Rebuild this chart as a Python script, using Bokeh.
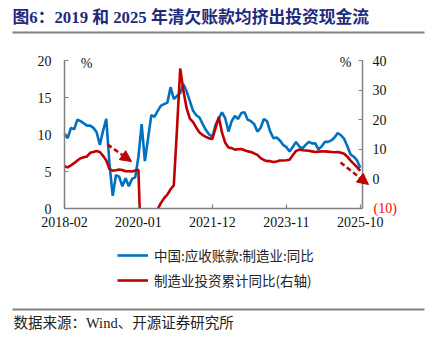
import pandas as pd
from bokeh.plotting import figure
from bokeh.models import (Range1d, LinearAxis, FixedTicker, Label, Arrow, NormalHead,
                          BoxAnnotation, Legend, LegendItem)
from bokeh.embed import file_html
from bokeh.resources import INLINE

# ---------------- data ----------------
months = list(pd.date_range("2018-02-01", periods=93, freq="MS").strftime("%Y-%m"))
tick_labels = ["2018-02", "2020-01", "2021-12", "2023-11", "2025-10"]

# 中国:应收账款:制造业:同比 (left axis, %)
receivables_yoy = [
    10.1, 9.5, 10.9, 10.7, 12.0, 11.8, 11.5, 11.2, 11.2, 10.9,
    10.3, 8.6, 10.5, 12.1, 6.0, 1.7, 4.5, 4.3, 3.0, 4.1,
    3.0, 4.0, 4.2, 7.0, 11.4, 6.4, 9.5, 12.6, 12.4, 13.2,
    13.9, 14.1, 14.3, 16.4, 14.8, 15.2, 15.6, 16.8, 15.8, 14.5,
    13.2, 12.6, 12.3, 11.4, 10.6, 10.0, 9.7, 11.3, 12.2, 13.0,
    12.2, 10.4, 11.8, 12.5, 12.1, 12.9, 13.0, 12.0, 11.8, 11.4,
    10.4, 10.9, 12.1, 11.8, 10.4, 9.5, 9.6, 9.2, 8.6, 8.3,
    7.7, 8.3, 9.0, 8.4, 8.1, 8.6, 9.0, 8.8, 8.8, 8.0,
    8.4, 9.0, 9.0, 9.2, 9.6, 10.2, 9.9, 9.4, 8.4, 7.3,
    7.0, 6.5, 5.5,
]

# 制造业投资累计同比 (right axis, %)
mfg_invest_ytd = [
    4.3, 3.9, 4.6, 5.3, 6.2, 7.0, 7.3, 7.6, 8.8, 9.1,
    9.4, 9.1, 7.8, 6.2, 3.3, 2.8, 2.9, 3.2, 3.0, 2.6,
    2.6, 2.5, 2.8, 3.1, -31.5, -25.2, -18.8, -14.8, -11.7, -10.2,
    -8.1, -6.5, -5.3, -3.5, -2.2, 17.0, 37.3, 29.8, 23.8, 20.4,
    19.2, 17.3, 15.7, 14.8, 14.2, 13.7, 13.5, 17.2, 20.9, 15.6,
    12.2, 10.6, 10.4, 9.9, 10.0, 10.1, 9.7, 9.3, 9.1, 8.6,
    8.1, 7.0, 6.4, 6.0, 6.0, 5.7, 5.9, 6.2, 6.2, 6.3,
    6.5, 8.0, 9.4, 9.9, 9.7, 9.6, 9.5, 9.3, 9.1, 9.2,
    9.3, 9.3, 9.2, 9.1, 9.0, 9.1, 8.8, 8.5, 7.5, 6.2,
    5.1, 4.0, 2.7,
]

left_ticks = [0, 5, 10, 15, 20]
right_ticks = [-10, 0, 10, 20, 30, 40]

x_idx = list(range(len(months)))
tick_pos = [months.index(t) for t in tick_labels]

BLUE = "#0070C0"
RED = "#C00000"
AXIS = "#808080"
SERIF = "Liberation Serif"
CJK = "Noto Sans CJK SC"

# ---------------- geometry (canvas px) ----------------
W, H = 429, 342
FL, FR, FT, FB = 64, 362, 60, 208      # plotting area of the chart
XMAX = 92.7
LMIN, LMAX = 0.0, 20.0
RMIN, RMAX = -10.0, 40.0


def X(cx):
    return (cx - FL) / (FR - FL) * XMAX


def Y(cy):
    return LMIN + (FB - cy) / (FB - FT) * (LMAX - LMIN)


def R(cy):
    return RMIN + (FB - cy) / (FB - FT) * (RMAX - RMIN)


p = figure(width=W, height=H, output_backend="svg", toolbar_location=None,
           x_range=Range1d(X(0), X(W)), y_range=Range1d(Y(H), Y(0)),
           min_border=0, min_border_left=0, min_border_right=0,
           min_border_top=0, min_border_bottom=0,
           outline_line_color=None, background_fill_color="white",
           border_fill_color="white", x_axis_location=None, y_axis_location=None)
p.xgrid.visible = False
p.ygrid.visible = False
p.extra_y_ranges = {"right": Range1d(R(H), R(0))}


def style_axis(ax, standoff):
    ax.axis_line_color = AXIS
    ax.axis_line_width = 1.5
    ax.major_tick_line_color = AXIS
    ax.major_tick_line_width = 1.2
    ax.major_tick_in = 4
    ax.major_tick_out = 0
    ax.minor_tick_line_color = None
    ax.major_label_text_font = SERIF
    ax.major_label_text_font_size = "14px"
    ax.major_label_text_color = "#111111"
    ax.major_label_standoff = standoff


# ---------------- series ----------------
rb = p.line(x_idx, receivables_yoy, line_color=BLUE, line_width=2.6)
rr = p.line(x_idx, mfg_invest_ytd, line_color=RED, line_width=2.6, y_range_name="right")

# white cover below the plotting area (the chart clips its lines at the x axis)
p.quad(left=[X(FL + 1)], right=[X(FR - 1)], top=[Y(FB)], bottom=[Y(300)],
       fill_color="white", line_color=None)

# ---------------- axes ----------------
xa = LinearAxis(fixed_location=0, bounds=(0, XMAX), ticker=FixedTicker(ticks=tick_pos),
                major_label_overrides={pos: lab for pos, lab in zip(tick_pos, tick_labels)})
style_axis(xa, 8)
p.add_layout(xa, "below")

ya = LinearAxis(fixed_location=0, bounds=(LMIN, LMAX), ticker=FixedTicker(ticks=left_ticks))
style_axis(ya, 13)
p.add_layout(ya, "left")

ra = LinearAxis(y_range_name="right", fixed_location=XMAX, bounds=(RMIN, RMAX),
                ticker=FixedTicker(ticks=right_ticks), major_label_overrides={-10: ""})
style_axis(ra, 10)
p.add_layout(ra, "right")

# ---------------- annotations ----------------
for (x0, y0, x1, y1) in [(107, 144, 131, 161), (340, 162, 368, 184)]:
    p.add_layout(Arrow(end=NormalHead(size=11, fill_color=RED, line_color=RED, line_width=1),
                       x_start=X(x0), y_start=Y(y0), x_end=X(x1), y_end=Y(y1),
                       line_color=RED, line_width=2.5, line_dash="5 3"))

# title
p.add_layout(Label(x=X(12), y=Y(17), text="图6：2019 和 2025 年清欠账款均挤出投资现金流",
                   text_font=f"{SERIF}, {CJK}", text_font_style="bold", text_font_size="16.8px",
                   text_color="#1F2A7C", text_baseline="middle", text_align="left"))
# rules
for cy in (32, 309):
    p.add_layout(BoxAnnotation(left=X(12), right=X(424), top=Y(cy - 1), bottom=Y(cy + 1),
                               fill_color=AXIS, fill_alpha=1, line_color=None))

# unit labels
p.add_layout(Label(x=X(86), y=Y(63), text="%", text_font=SERIF, text_font_size="14px",
                   text_color="#111111", text_align="center", text_baseline="middle"))
p.add_layout(Label(x=X(345), y=Y(62), text="%", text_font=SERIF, text_font_size="14px",
                   text_color="#111111", text_align="center", text_baseline="middle"))
# red (10) label on right axis
p.add_layout(Label(x=X(373), y=Y(208), text="(10)", text_font=SERIF, text_font_size="14px",
                   text_color="#FF0000", text_align="left", text_baseline="middle"))

# legend
legend = Legend(items=[LegendItem(label="中国:应收账款:制造业:同比", renderers=[rb]),
                       LegendItem(label="制造业投资累计同比(右轴)", renderers=[rr])],
                location=(117, H - 290), orientation="vertical",
                border_line_color=None, background_fill_alpha=0,
                padding=0, margin=0, spacing=5, glyph_width=31, glyph_height=14,
                label_height=14, label_standoff=6,
                label_text_font=CJK, label_text_font_size="13.5px",
                label_text_color="#222222")
p.add_layout(legend)

# source
p.add_layout(Label(x=X(13), y=Y(322), text="数据来源：Wind、开源证券研究所",
                   text_font=f"{SERIF}, {CJK}", text_font_size="14.5px",
                   text_color="#222222", text_baseline="middle", text_align="left"))

open("out.html", "w").write(file_html(p, INLINE))
